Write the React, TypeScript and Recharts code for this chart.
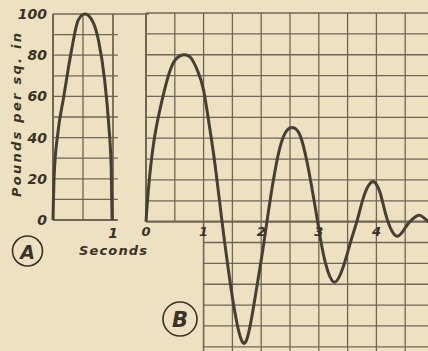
import { LineChart, Line, XAxis, YAxis, ReferenceLine, ReferenceDot } from 'recharts'

// Chart A: single pressure pulse, seconds vs pounds per sq. in
const secondsA = [0, 0.02, 0.08, 0.18, 0.3, 0.42, 0.53, 0.64, 0.76, 0.86, 0.93, 0.97, 0.985]
const poundsA = [0, 22, 42, 60, 81, 97, 100, 97.5, 87, 68, 46, 25, 0]

// Chart B: decaying oscillation
const secondsB = [
  0, 0.05, 0.14, 0.26, 0.4, 0.52, 0.65, 0.78, 0.9, 1.0, 1.1, 1.2, 1.32, 1.42, 1.54, 1.68, 1.8, 1.92, 2.02, 2.1,
  2.2, 2.32, 2.44, 2.56, 2.68, 2.8, 2.9, 2.98, 3.06, 3.16, 3.28, 3.42, 3.56, 3.66, 3.78, 3.88, 3.96, 4.05, 4.12,
  4.2, 4.28, 4.36, 4.45, 4.55, 4.66, 4.76, 4.86, 4.95,
]
const poundsB = [
  0, 18, 39, 56, 71, 78, 80, 78.5, 72, 63, 46, 27, 0, -21, -43, -58, -51, -32, -15, 0, 18, 35, 43.5, 45, 41, 28,
  13, 0, -13, -24, -29, -22, -9, 0, 12, 18, 19, 15, 8, 0, -5, -7, -5, -1, 2, 3, 1, -1,
]

const yTicksA = [0, 20, 40, 60, 80, 100]
const xTicksA = [1]
const xTicksB = [0, 1, 2, 3, 4, 5]

const gridUpper = [10, 20, 30, 40, 50, 60, 70, 80, 90]
const gridLower = [-10, -20, -30, -40, -50, -60]
const gridSecondsB = [0.5, 1, 1.5, 2, 2.5, 3, 3.5, 4, 4.5, 5]
const gridSecondsLowerB = [1.5, 2, 2.5, 3, 3.5, 4, 4.5, 5]

const PAPER = '#ede1c1'
const GRID = '#6f6656'
const INK = '#463f34'
const TEXT = '#3a3226'
const FONT = '"DejaVu Sans", sans-serif'

const dataA = secondsA.map((t, i) => ({ t, p: poundsA[i] }))
const dataB = secondsB.map((t, i) => ({ t, p: poundsB[i] }))

const tickStyle = { fill: TEXT, fontSize: 14, fontStyle: 'italic', fontWeight: 700, fontFamily: FONT }

function seg(x1: number, y1: number, x2: number, y2: number, key: string, w = 1.3) {
  return (
    <ReferenceLine
      key={key}
      segment={[
        { x: x1, y: y1 },
        { x: x2, y: y2 },
      ]}
      stroke={GRID}
      strokeWidth={w}
    />
  )
}

export default function App() {
  return (
    <div
      style={{
        position: 'fixed',
        left: 0,
        top: 0,
        width: 428,
        height: 351,
        overflow: 'hidden',
        background: PAPER,
      }}
    >
      <div style={{ position: 'absolute', left: 0, top: 0 }}>
        <LineChart width={149} height={270} data={dataA} margin={{ top: 14, right: 0, left: 0, bottom: 0 }}>
          <XAxis
            dataKey="t"
            type="number"
            domain={[0, 1.6]}
            ticks={xTicksA}
            height={50}
            axisLine={false}
            tickLine={false}
            tickSize={0}
            tickMargin={8}
            tick={tickStyle}
          />
          <YAxis
            type="number"
            domain={[0, 100]}
            ticks={yTicksA}
            width={53}
            axisLine={false}
            tickLine={false}
            tickSize={0}
            tickMargin={6}
            tick={tickStyle}
          />
          {gridUpper.map((v) => seg(0, v, 1.08, v, 'ha' + v))}
          {seg(0, 100, 1.6, 100, 'topA', 1.6)}
          {seg(0, 0, 1.08, 0, 'baseA', 2)}
          {seg(0.5, 0, 0.5, 100, 'va')}
          {seg(0, 0, 0, 100, 'leftA', 2)}
          {seg(1, 0, 1, 100, 'rightA', 1.8)}
          <Line
            type="monotone"
            dataKey="p"
            stroke={INK}
            strokeWidth={3}
            dot={false}
            isAnimationActive={false}
          />
        </LineChart>
      </div>
      <div style={{ position: 'absolute', left: 0, top: 0 }}>
        <LineChart width={434} height={351} data={dataB} margin={{ top: 13, right: 0, left: 146, bottom: 0 }}>
          <XAxis dataKey="t" type="number" domain={[0, 5]} hide />
          <YAxis type="number" domain={[-62, 100]} hide />
          {gridUpper.map((v) => seg(0, v, 5, v, 'hb' + v))}
          {seg(0, 100, 5, 100, 'topB', 1.6)}
          {gridLower.map((v) => seg(1, v, 5, v, 'hl' + v))}
          {gridSecondsB.map((s) => seg(s, 0, s, 100, 'vb' + s))}
          {gridSecondsLowerB.map((s) => seg(s, -62, s, 0, 'vl' + s))}
          {seg(1, -62, 1, 0, 'leftLower', 1.6)}
          {seg(0, 0, 0, 100, 'leftB', 2)}
          {seg(0, 0, 5, 0, 'zeroB', 2.2)}
          <Line
            type="natural"
            dataKey="p"
            stroke={INK}
            strokeWidth={3}
            dot={false}
            isAnimationActive={false}
          />
          {xTicksB.map((s) => (
            <ReferenceDot
              key={'tb' + s}
              x={s}
              y={0}
              r={0}
              fill="none"
              stroke="none"
              label={{ value: String(s), position: 'bottom', offset: 5, ...tickStyle, fontSize: 13 }}
            />
          ))}
        </LineChart>
      </div>
      <svg
        width={428}
        height={351}
        style={{ position: 'absolute', left: 0, top: 0, pointerEvents: 'none' }}
      >
        <text
          x={16}
          y={115}
          transform="rotate(-90 16 115)"
          textAnchor="middle"
          dominantBaseline="central"
          textLength={164}
          lengthAdjust="spacing"
          fill={TEXT}
          fontFamily={FONT}
          fontStyle="italic"
          fontWeight={700}
          fontSize={13}
        >
          Pounds per sq. in
        </text>
        <text
          x={113}
          y={250}
          textAnchor="middle"
          dominantBaseline="central"
          textLength={68}
          lengthAdjust="spacing"
          fill={TEXT}
          fontFamily={FONT}
          fontStyle="italic"
          fontWeight={700}
          fontSize={13}
        >
          Seconds
        </text>
        <circle cx={27.5} cy={251} r={15} fill="none" stroke={TEXT} strokeWidth={1.6} />
        <text
          x={27.5}
          y={252}
          textAnchor="middle"
          dominantBaseline="central"
          fill={TEXT}
          fontFamily={FONT}
          fontStyle="italic"
          fontWeight={700}
          fontSize={19}
        >
          A
        </text>
        <circle cx={180} cy={319} r={17} fill="none" stroke={TEXT} strokeWidth={1.6} />
        <text
          x={180}
          y={320}
          textAnchor="middle"
          dominantBaseline="central"
          fill={TEXT}
          fontFamily={FONT}
          fontStyle="italic"
          fontWeight={700}
          fontSize={21}
        >
          B
        </text>
      </svg>
    </div>
  )
}
